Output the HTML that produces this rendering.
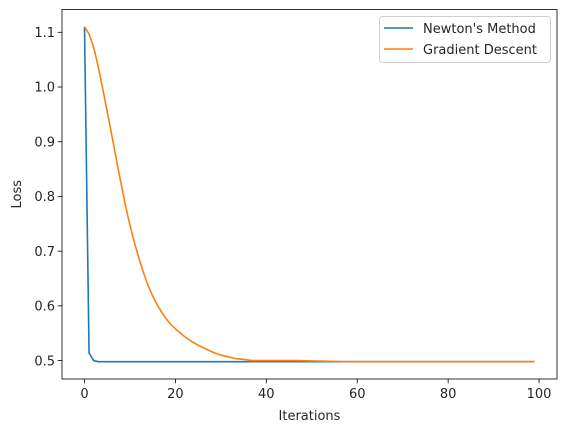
<!DOCTYPE html>
<html><head><meta charset="utf-8"><style>
body{margin:0;background:#fff;}
svg{display:block;font-family:"DejaVu Sans","Liberation Sans",sans-serif;}
</style></head><body>
<svg id="chart" width="567" height="432" viewBox="0 0 567 432" xmlns="http://www.w3.org/2000/svg">
<rect x="0" y="0" width="567" height="432" fill="#fff"/>
<g id="marks"></g>
<g id="axes"></g>
<g>
<rect x="379.5" y="16.5" width="171" height="46" rx="3" fill="#fff" fill-opacity="0.8" stroke="#d0d0d0"/>
<line x1="384" y1="28" x2="413" y2="28" stroke="#1f77b4" stroke-width="1.5"/>
<text x="423" y="33" font-size="13" fill="#262626">Newton's Method</text>
<line x1="384" y1="49" x2="413" y2="49" stroke="#ff7f0e" stroke-width="1.5"/>
<text x="423" y="54" font-size="13" fill="#262626">Gradient Descent</text>
</g>
</svg>
<script>
const newtonLoss = [1.11,0.514,0.500,0.498];
const gdLoss = [1.11,1.097,1.073,1.038,0.997,0.955,0.912,0.868,0.825,0.784,0.747,0.715,0.686,0.660,0.637,0.618,0.602,0.588,0.576,0.566,0.558,0.551,0.544,0.538,0.533,0.528,0.524,0.520,0.516,0.513,0.510,0.508,0.506,0.504,0.503,0.502,0.501,0.500,0.500,0.500,0.500,0.500,0.500,0.500,0.500,0.500,0.500,0.500,0.4998,0.4995,0.4993,0.499,0.499,0.4988,0.4986,0.4984,0.4982,0.498,0.498,0.498];
const xTicks = [0,20,40,60,80,100];
const yTicks = [0.5,0.6,0.7,0.8,0.9,1.0,1.1];
const yTickLabels = ["0.5","0.6","0.7","0.8","0.9","1.0","1.1"];
const nIter = 100;
const finalLoss = 0.498;

const L=62,R=557,T=9.5,B=379;
const xmin=-4.95,xmax=103.95,ymin=0.4663,ymax=1.1417;
const X=v=>L+(v-xmin)/(xmax-xmin)*(R-L);
const Y=v=>B-(v-ymin)/(ymax-ymin)*(B-T);
const NS="http://www.w3.org/2000/svg";
function mk(tag,attrs,parent){const e=document.createElementNS(NS,tag);for(const k in attrs)e.setAttribute(k,attrs[k]);parent.appendChild(e);return e;}
const marks=document.getElementById('marks'),axes=document.getElementById('axes');
function series(arr){const out=[];for(let i=0;i<nIter;i++)out.push(i<arr.length?arr[i]:finalLoss);return out;}
function line(vals,color,name){
  const d=vals.map((v,i)=>(i?'L':'M')+X(i).toFixed(2)+' '+Y(v).toFixed(2)).join(' ');
  const p=mk('path',{d:d,fill:'none',stroke:color,'stroke-width':1.6,'stroke-linejoin':'round'},marks);
  
  
}
line(series(newtonLoss),'#1f77b4','newton-line');
line(series(gdLoss),'#ff7f0e','gradient-descent-line');
const frame=mk('rect',{x:L,y:T,width:R-L,height:B-T,fill:'none',stroke:'#000','stroke-width':0.8},axes);


xTicks.forEach(t=>{
  const x=X(t);
  const tk=mk('line',{x1:x,y1:B,x2:x,y2:B+4.3,stroke:'#000','stroke-width':0.8},axes);
  
  
  const tx=mk('text',{x:x,y:B+19,'text-anchor':'middle','font-size':13,fill:'#262626'},axes);
  tx.textContent=t;
  
  
});
yTicks.forEach((t,i)=>{
  const y=Y(t);
  const tk=mk('line',{x1:L-4.3,y1:y,x2:L,y2:y,stroke:'#000','stroke-width':0.8},axes);
  
  
  const tx=mk('text',{x:L-7,y:y+4.7,'text-anchor':'end','font-size':13,fill:'#262626'},axes);
  tx.textContent=yTickLabels[i];
  
  
});
const xt=mk('text',{x:(L+R)/2,y:420,'text-anchor':'middle','font-size':13,fill:'#262626'},axes);
xt.textContent='Iterations';


const yt=mk('text',{x:0,y:0,'text-anchor':'middle','font-size':13,fill:'#262626',transform:`translate(21,${(T+B)/2}) rotate(-90)`},axes);
yt.textContent='Loss';


</script>
</body></html>
